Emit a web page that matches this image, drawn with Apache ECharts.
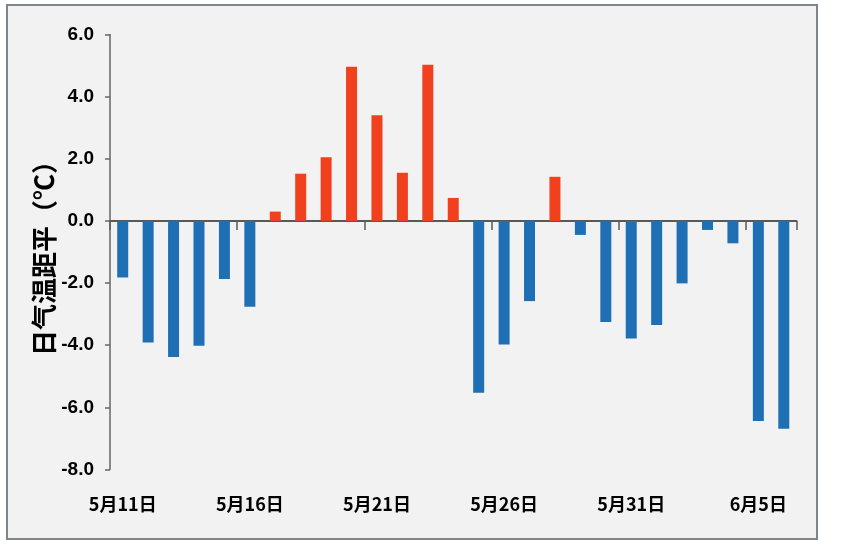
<!DOCTYPE html>
<html>
<head>
<meta charset="utf-8">
<script src="https://cdn.jsdelivr.net/npm/echarts@6/dist/echarts.min.js"></script>
<style>
html,body{margin:0;padding:0;background:#ffffff;}
#chart{width:843px;height:544px;}
</style>
</head>
<body>
<div id="chart"></div>
<script>
var categories = ['5月11日','5月12日','5月13日','5月14日','5月15日','5月16日','5月17日','5月18日','5月19日','5月20日',
  '5月21日','5月22日','5月23日','5月24日','5月25日','5月26日','5月27日','5月28日','5月29日','5月30日',
  '5月31日','6月1日','6月2日','6月3日','6月4日','6月5日','6月6日'];
var anomalies = [-1.82,-3.91,-4.38,-4.02,-1.87,-2.76,0.30,1.52,2.05,4.96,
  3.40,1.55,5.03,0.74,-5.53,-3.98,-2.58,1.42,-0.45,-3.25,
  -3.78,-3.35,-2.01,-0.29,-0.72,-6.44,-6.69];
var yTicks = {min:-8, max:6, interval:2};
var yName = '日气温距平（℃）';

var chart = echarts.init(document.getElementById('chart'), null, {renderer:'canvas'});
var option = {
  backgroundColor: '#ffffff',
  animation: false,
  graphic: [{
    type: 'rect', z: -10, silent: true,
    shape: {x: 7, y: 5, width: 810, height: 534},
    style: {fill: '#f2f2f2', stroke: '#7b868f', lineWidth: 2}
  }],
  grid: {left: 110, right: 46.5, top: 34.5, bottom: 74.5, containLabel: false},
  xAxis: [{
    type: 'category', data: categories, position: 'bottom',
    boundaryGap: true,
    axisLine: {onZero: true, lineStyle: {color: '#595959', width: 2}},
    axisTick: {show: true, interval: 4, length: 9, lineStyle: {color: '#595959', width: 1.5}},
    axisLabel: {show: false}
  }, {
    type: 'category', data: categories, position: 'bottom',
    boundaryGap: true,
    axisLine: {show: false, onZero: false},
    axisTick: {show: false},
    axisLabel: {show: true, interval: 4, margin: 26, color: '#000000',
      fontSize: 18, fontWeight: 'bold',
      fontFamily: '"Liberation Sans Narrow","Noto Sans CJK SC",sans-serif'}
  }],
  yAxis: {
    type: 'value', min: yTicks.min, max: yTicks.max, interval: yTicks.interval,
    name: yName, nameLocation: 'middle', nameRotate: 90, nameGap: 53,
    nameMoveOverlap: false,
    nameTextStyle: {color: '#000000', fontSize: 26, fontWeight: 'bold',
      fontFamily: '"Noto Sans CJK SC",sans-serif'},
    axisLine: {show: true, lineStyle: {color: '#666666', width: 1.5}},
    axisTick: {show: true, length: 5, lineStyle: {color: '#666666', width: 1.5}},
    splitLine: {show: false},
    axisLabel: {margin: 16, color: '#000000', fontSize: 19, fontWeight: 'bold',
      fontFamily: '"Liberation Sans",Arial,sans-serif',
      formatter: function (v) { return v.toFixed(1); }}
  },
  series: [{
    type: 'bar', xAxisIndex: 0, yAxisIndex: 0,
    data: anomalies, barWidth: 11,
    itemStyle: {
      color: function (p) { return p.value >= 0 ? '#f0401e' : '#1f6fb5'; }
    }
  }]
};
chart.setOption(option);
</script>
</body>
</html>
